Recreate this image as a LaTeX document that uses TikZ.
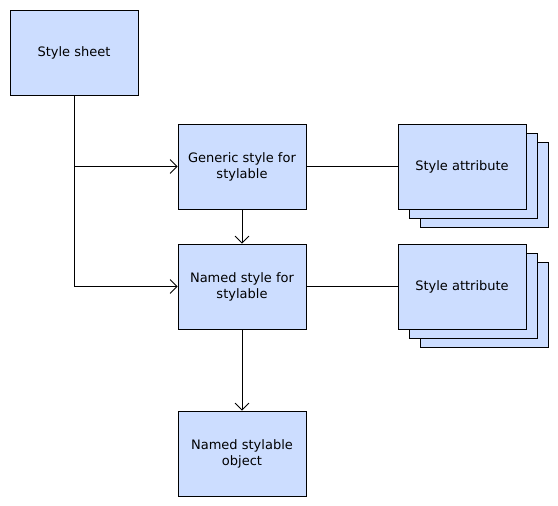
\documentclass[tikz,border=0pt]{standalone}
\usepackage{fontspec}
\setmainfont{DejaVu Sans}
\usetikzlibrary{arrows.meta}
\definecolor{boxfill}{HTML}{CCDDFF}
\begin{document}
\begin{tikzpicture}[x=1pt,y=-1pt,
  box/.style={draw=black,fill=boxfill,line width=0.8pt,minimum width=128pt,minimum height=85pt,inner sep=0pt,align=center,font=\fontsize{13}{16}\selectfont},
  conn/.style={draw=black,line width=0.8pt},
  arr/.style={conn,-{Straight Barb[length=7pt,width=14pt,line width=0.8pt]}}]
\useasboundingbox (0,0) rectangle (558,506);
\node[box] (sheet) at (74,52.5) {Style sheet};
\node[box] (generic) at (242,166.5) {Generic style for\\stylable};
\node[box] (named) at (242,286.5) {Named style for\\stylable};
\node[box] (object) at (242,453.5) {Named stylable\\object};
\node[box] (a1c) at (484,184.5) {};
\node[box] (a1b) at (473,175.5) {};
\node[box] (a1) at (462,166.5) {Style attribute};
\node[box] (a2c) at (484,304.5) {};
\node[box] (a2b) at (473,295.5) {};
\node[box] (a2) at (462,286.5) {Style attribute};
\coordinate (j1) at (sheet.south |- generic.west);
\coordinate (j2) at (sheet.south |- named.west);
\draw[conn] (sheet.south) -- (j2);
\draw[arr] (j1) -- (generic.west);
\draw[arr] (j2) -- (named.west);
\draw[arr] (generic.south) -- (named.north);
\draw[arr] (named.south) -- (object.north);
\draw[conn] (generic.east) -- (a1.west);
\draw[conn] (named.east) -- (a2.west);
\end{tikzpicture}
\end{document}
